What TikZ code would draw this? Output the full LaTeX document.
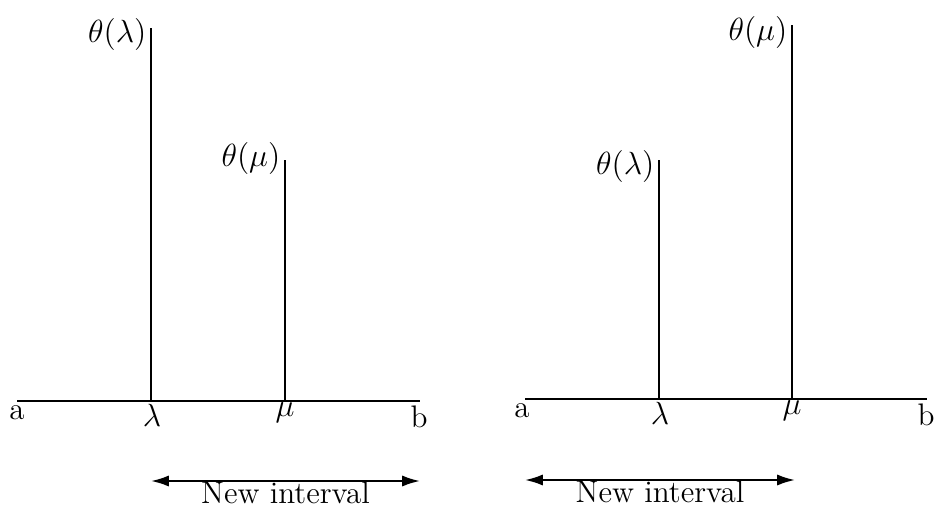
\documentclass[tikz,border=0pt]{standalone}
\usepackage{amsmath,amssymb}
\usepackage{tikz}
\usetikzlibrary{arrows.meta,positioning,calc}

\begin{document}
\begin{tikzpicture}[x=0.0158cm, y=-0.0158cm,
    font=\fontsize{14}{17}\selectfont,
    axisline/.style={line width=0.6pt},
    bar/.style={line width=0.9pt},
    pt/.style={anchor=north, inner sep=1pt},
    val/.style={anchor=east, inner sep=1pt},
    span/.style={{Latex[length=8pt,width=5pt]}-{Latex[length=8pt,width=5pt]}, line width=0.9pt}]
    \useasboundingbox (0,0) rectangle (934,510);

    % Left: theta(lambda) > theta(mu)
    \node[pt] (a1) at (17,403) {a};
    \node[pt] (b1) at (419,403) {b};
    \node[pt] (lam1) at (152,402) {$\lambda$};
    \node[pt] (mu1) at (285,400) {$\mu$};
    \coordinate (o1) at (17,401);
    \coordinate (e1) at (420,401);
    \draw[axisline] (o1) -- (e1);
    \coordinate (tl1) at (151,28);
    \coordinate (tm1) at (285,160);
    \draw[bar] (tl1) -- (151,401);
    \draw[bar] (tm1) -- (285,401);
    \node[val] (thl1) at (149,34) {$\theta(\lambda)$};
    \node[val] (thm1) at (283,158) {$\theta(\mu)$};

    \coordinate (s1) at (151,481);
    \coordinate (f1) at (420,481);
    \draw[span] (s1) -- (f1);
    \node[below=0pt of $(s1)!0.5!(f1)$, inner sep=0pt] (new1) {New interval};

    % Right: theta(lambda) < theta(mu)
    \node[pt] (a2) at (522,401) {a};
    \node[pt] (b2) at (926,401) {b};
    \node[pt] (lam2) at (660,400) {$\lambda$};
    \node[pt] (mu2) at (792,398) {$\mu$};
    \coordinate (o2) at (525,399);
    \coordinate (e2) at (927,399);
    \draw[axisline] (o2) -- (e2);
    \coordinate (tl2) at (659,160);
    \coordinate (tm2) at (792,25);
    \draw[bar] (tl2) -- (659,399);
    \draw[bar] (tm2) -- (792,399);
    \node[val] (thl2) at (657,166) {$\theta(\lambda)$};
    \node[val] (thm2) at (790,32) {$\theta(\mu)$};

    \coordinate (s2) at (525,480);
    \coordinate (f2) at (795,480);
    \draw[span] (s2) -- (f2);
    \node[below=0pt of $(s2)!0.5!(f2)$, inner sep=0pt] (new2) {New interval};
\end{tikzpicture}
\end{document}
